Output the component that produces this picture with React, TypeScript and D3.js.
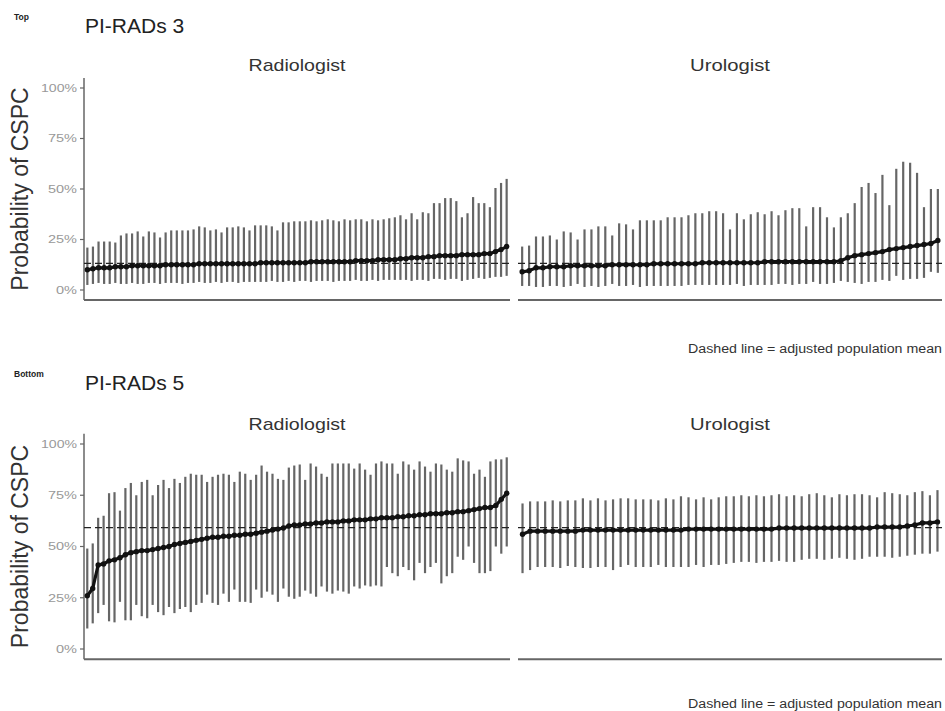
import React from "react";
import * as d3 from "d3";

// ---------- DATA (percent) ----------
const FACETS = ["Radiologist", "Urologist"];
const ROW_TITLES = ["PI-RADs 3", "PI-RADs 5"];
const ROW_TAGS = ["Top", "Bottom"];
const Y_TICKS = [0, 25, 50, 75, 100];
const Y_TICK_LABELS = ["0%", "25%", "50%", "75%", "100%"];
const CAPTION = "Dashed line = adjusted population mean";
const MEAN_PIRADS3 = 13.2;
const MEAN_PIRADS5 = 59.2;

const RAD3_EST = [
  10, 10.5, 11, 11, 11, 11.5, 11.5, 11.5, 12, 12,
  12, 12, 12, 12, 12.5, 12.5, 12.5, 12.5, 12.5, 12.5,
  13, 13, 13, 13, 13, 13, 13, 13, 13, 13,
  13, 13.5, 13.5, 13.5, 13.5, 13.5, 13.5, 13.5, 13.5, 13.5,
  14, 14, 14, 14, 14, 14, 14, 14, 14.5, 14.5,
  14.5, 14.5, 15, 15, 15, 15, 15.5, 15.5, 16, 16,
  16, 16.5, 16.5, 17, 17, 17, 17, 17.5, 17.5, 17.5,
  17.5, 18, 18, 19, 20, 21.5,
];
const RAD3_HI = [
  21, 21.5, 24, 24, 24, 23.5, 27, 28, 28, 29,
  26.5, 29, 28.5, 26, 28.5, 29.5, 29.5, 29.5, 29.5, 30,
  31.5, 31, 29.5, 30, 28.5, 31, 31, 31.5, 31, 29.5,
  32, 32, 32, 31.5, 29.5, 33.5, 33.5, 34, 34,
  34, 34.5, 34, 34.5, 35, 34.5, 34, 35, 34.5, 35,
  35, 34, 35, 34.5, 35, 35.5,
  36, 37, 35, 38, 35, 38.5, 38, 43, 43, 45.5,
  45.5, 44, 36, 38, 46, 43, 43, 41, 50.5, 53, 55,
];
const RAD3_LO = [
  2.5, 3, 3.5, 3, 3, 3.5, 3, 3, 3.5, 3,
  3, 3.5, 3.5, 3, 3.5, 3.5, 3.5, 3, 3.5, 3.5,
  4, 3.5, 3.5, 4, 3.5, 4, 4, 3.5, 4, 4,
  4, 4, 4, 4.5, 4, 4, 4.5, 4, 4.5, 4.5,
  4, 4.5, 4.5, 4.5, 4, 4.5, 4.5, 4.5, 5, 4.5,
  4.5, 5, 4.5, 5, 5, 5, 5, 5, 4.5, 5,
  5, 4.5, 5.5, 5.5, 5, 5.5, 5.5, 4.5, 5, 5.5,
  6, 5.5, 6, 6.5, 6.5, 7,
];

const URO3_EST = [
  9, 9.5, 11, 11, 11.5, 11.5, 11.5, 12, 12, 12,
  12, 12, 12, 12.5, 12.5, 12.5, 12.5, 12.5, 12.5, 13,
  13, 13, 13, 13, 13, 13, 13.5, 13.5, 13.5, 13.5,
  13.5, 13.5, 13.5, 13.5, 13.5, 14, 14, 14, 14, 14,
  14, 14, 14, 14, 14, 14, 14.5, 16, 17, 17.5,
  18, 18.5, 19, 20, 20.5, 21, 21.5, 22, 22.5, 23,
  24.5,
];
const URO3_HI = [
  21.5, 22, 26.5, 26.5, 27, 25, 29, 28.5, 25, 30,
  30, 31.5, 31.5, 27, 33, 32.5, 30, 34.5, 34.5, 34.5,
  34.5, 36, 36, 36, 37, 38, 38, 39, 39,
  38, 30, 38, 35, 37.5, 38.5, 37.5, 39, 37, 39.5,
  40.5, 40.5, 31.5, 41, 41, 36, 31, 36, 38, 43,
  51, 53, 48, 57, 42, 60, 63.5, 63, 58, 41,
  50, 50,
];
const URO3_LO = [
  2, 2, 1.5, 1.5, 2, 2, 1.5, 2, 3, 1.5,
  2, 1.5, 2, 3, 2, 2, 2.5, 1.5, 2, 2,
  2, 2, 2, 2, 2.5, 2.5, 2.5, 2.5, 2.5, 2.5,
  2.5, 3, 2, 2.5, 2.5, 2.5, 2.5, 3, 3, 2.5,
  3, 3, 4, 3, 3, 3.5, 4.5, 4, 3.5, 3,
  4, 4, 5, 4.5, 7, 5, 5.5, 5.5, 6, 9,
  8.5,
];

const RAD5_EST = [
  26, 29.5, 41, 41.5, 43, 43.5, 44.5, 46, 47, 47.5,
  48, 48, 48.5, 49, 49.5, 50, 51, 51.5, 52, 52.5,
  53, 53.5, 54, 54.5, 54.5, 55, 55, 55.5, 55.5, 56,
  56, 56.5, 57, 57.5, 58, 58.5, 59, 60, 60.5, 60.5,
  61, 61, 61.5, 61.5, 62, 62, 62, 62.5, 62.5, 63,
  63, 63, 63.5, 63.5, 64, 64, 64, 64.5, 64.5, 65,
  65, 65.5, 65.5, 66, 66, 66, 66.5, 66.5, 67, 67,
  67.5, 68, 68.5, 69, 69, 70, 73, 76,
];
const RAD5_HI = [
  49, 51.5, 64, 65, 76, 76.5, 67.5, 78.5, 81, 75,
  81.5, 82.5, 75, 80, 82.5, 78.5, 83, 81, 84, 85.5,
  85, 85, 81.5, 84, 85, 85.5, 85, 81.5, 86.5, 85.5,
  82.5, 85, 89.5, 86.5, 85.5, 83, 82.5, 88.5, 89.5, 90,
  82.5, 90.5, 89, 85.5, 84, 90.5, 90.5, 90.5, 90.5, 88,
  90.5, 87.5, 85, 90.5, 91.5, 90.5, 90.5, 85.5, 91.5, 90,
  87.5, 91.5, 89, 86.5, 90.5, 90, 87.5, 86.5, 93, 92,
  91.5, 85.5, 87.5, 84, 91.5, 92.5, 92.5, 93.5,
];
const RAD5_LO = [
  10, 12.5, 17.5, 21.5, 13.5, 13, 23, 14, 14, 21.5,
  16, 15, 21.5, 18, 16.5, 20.5, 17.5, 19.5, 20.5, 18,
  21.5, 22.5, 26.5, 22.5, 21.5, 27, 23, 29, 23, 23,
  22.5, 29, 25, 28, 26.5, 23, 29.5, 25.5, 24.5, 25.5,
  28.5, 27, 25.5, 30.5, 28, 27, 28.5, 28, 27, 30.5,
  29.5, 31, 30.5, 31, 30.5, 40, 37, 35.5, 40, 38.5,
  33.5, 42, 37, 40, 42, 32, 35.5, 37, 45, 43.5,
  50, 42, 37, 37, 38, 50, 46.5, 50,
];

const URO5_EST = [
  56, 57.5, 57.5, 57.5, 57.5, 57.5, 57.5, 57.5, 58, 58,
  58, 58, 58, 58, 58, 58, 58, 58, 58, 58,
  58, 58, 58.5, 58.5, 58.5, 58.5, 58.5, 58.5, 58.5, 58.5,
  58.5, 58.5, 58.5, 58.5, 59, 59, 59, 59, 59, 59,
  59, 59, 59, 59, 59, 59, 59, 59.5, 59.5, 59.5,
  59.5, 60, 60.5, 61.5, 61.5, 62,
];
const URO5_HI = [
  71, 72, 72, 72, 72.5, 72, 72.5, 72.5, 73.5, 72.5,
  73.5, 72.5, 73, 73.5, 73.5, 73, 73, 73, 72.5, 73.5,
  73, 74.5, 74, 73, 74, 73,
  74, 74.5, 74.5, 75, 74.5, 75, 74.5, 75, 75.5, 74.5,
  75, 74.5, 75.5, 76, 75, 74, 75.5, 75, 75.5, 75.5,
  75, 74, 76.5, 76, 75.5, 75, 76.5, 77, 75, 77.5,
];
const URO5_LO = [
  37, 38.5, 40, 40, 40, 39.5, 40.5, 40, 39.5, 39.5,
  40, 40, 38.5, 40, 41, 40, 40, 40, 41, 40,
  40, 40, 40, 41, 40, 41,
  41, 41.5, 42, 42.5, 42.5, 42, 42.5, 42.5, 43, 42.5,
  42.5, 43.5, 44, 44, 43.5, 44, 44.5, 44, 43.5, 44,
  45, 45, 45, 44.5, 45, 45.5, 46, 46.5, 46.5, 47.5,
];

// ---------- LAYOUT ----------
const W = 945;
const H = 711;
const FONT = "'Liberation Sans', Arial, Helvetica, sans-serif";
const PANEL_X = [
  [84, 510],
  [518, 942],
];
const ROWS = [
  { y0: 290, y100: 88, titleY: 33, tagY: 20, stripY: 71, captionY: 353, mean: MEAN_PIRADS3,
    data: [[RAD3_EST, RAD3_LO, RAD3_HI], [URO3_EST, URO3_LO, URO3_HI]] },
  { y0: 649, y100: 444, titleY: 390, tagY: 377, stripY: 430, captionY: 708, mean: MEAN_PIRADS5,
    data: [[RAD5_EST, RAD5_LO, RAD5_HI], [URO5_EST, URO5_LO, URO5_HI]] },
];
const STRIP_WIDTHS = [97, 80];
const TICK_WIDTHS = [21, 29, 29, 29, 36];

function Panel({ est, lo, hi, mean, xr, y, showY }) {
  const ids = est.map((_, i) => i);
  const x = d3.scalePoint().domain(ids).range(xr).padding(0.6);
  const yTop = y(105);
  const yBot = y(-5);
  const line = d3
    .line()
    .x((_, i) => x(i))
    .y((d) => y(d));
  return (
    <g>
      {showY && (
        <g>
          <line x1={xr[0]} x2={xr[0]} y1={yTop} y2={yBot} stroke="#666" strokeWidth={1.5} />
          {Y_TICKS.map((t, k) => (
            <g key={t}>
              <line x1={xr[0] - 4} x2={xr[0]} y1={y(t)} y2={y(t)} stroke="#666" strokeWidth={1.2} />
              <text
                x={xr[0] - 7}
                y={y(t)}
                dy="0.35em"
                textAnchor="end"
                fontSize={11}
                fill="#999"
                fontFamily={FONT}
                textLength={TICK_WIDTHS[k]}
                lengthAdjust="spacingAndGlyphs"
              >
                {Y_TICK_LABELS[k]}
              </text>
            </g>
          ))}
        </g>
      )}
      <line x1={xr[0]} x2={xr[1]} y1={yBot} y2={yBot} stroke="#666" strokeWidth={2} />
      {ids.map((i) => (
        <line
          key={i}
          x1={x(i)}
          x2={x(i)}
          y1={y(lo[i])}
          y2={y(hi[i])}
          stroke="#666"
          strokeWidth={2.2}
        />
      ))}
      <line
        x1={xr[0]}
        x2={xr[1]}
        y1={y(mean)}
        y2={y(mean)}
        stroke="#222"
        strokeWidth={1.1}
        strokeDasharray="7,4"
      />
      <path d={line(est)} fill="none" stroke="#111" strokeWidth={3.2} />
      {ids.map((i) => (
        <circle key={i} cx={x(i)} cy={y(est[i])} r={2.7} fill="#111" />
      ))}
    </g>
  );
}

export default function App() {
  return (
    <div style={{ position: "absolute", left: 0, top: 0 }}>
      <svg width={W} height={H} style={{ display: "block", background: "#fff" }}>
        <rect width={W} height={H} fill="#fff" />
        {ROWS.map((row, r) => {
          const y = d3.scaleLinear().domain([0, 100]).range([row.y0, row.y100]);
          const midY = (y(0) + y(100)) / 2;
          return (
            <g key={r}>
              <text x={14} y={row.tagY} fontSize={8.5} fontWeight="bold" fontFamily={FONT} fill="#222">
                {ROW_TAGS[r]}
              </text>
              <text x={85} y={row.titleY} fontSize={21} fontFamily={FONT} fill="#222">
                {ROW_TITLES[r]}
              </text>
              {FACETS.map((f, c) => (
                <text
                  key={f}
                  x={(PANEL_X[c][0] + PANEL_X[c][1]) / 2}
                  y={row.stripY}
                  textAnchor="middle"
                  fontSize={17}
                  fontFamily={FONT}
                  fill="#333"
                  textLength={STRIP_WIDTHS[c]}
                  lengthAdjust="spacingAndGlyphs"
                >
                  {f}
                </text>
              ))}
              <text
                transform={`translate(28,${midY}) rotate(-90)`}
                textAnchor="middle"
                fontSize={23}
                fontFamily={FONT}
                fill="#333"
              >
                Probability of CSPC
              </text>
              {FACETS.map((f, c) => (
                <Panel
                  key={f}
                  est={row.data[c][0]}
                  lo={row.data[c][1]}
                  hi={row.data[c][2]}
                  mean={row.mean}
                  xr={PANEL_X[c]}
                  y={y}
                  showY={c === 0}
                />
              ))}
              <text
                x={942}
                y={row.captionY}
                textAnchor="end"
                fontSize={12}
                fontFamily={FONT}
                fill="#333"
                textLength={254}
                lengthAdjust="spacingAndGlyphs"
              >
                {CAPTION}
              </text>
            </g>
          );
        })}
      </svg>
    </div>
  );
}
